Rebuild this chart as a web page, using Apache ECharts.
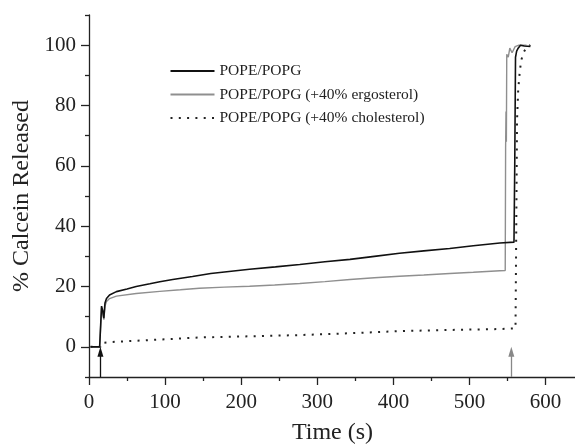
<!DOCTYPE html>
<html>
<head>
<meta charset="utf-8">
<script src="https://cdn.jsdelivr.net/npm/echarts@6/dist/echarts.min.js"></script>
<style>
html,body{margin:0;padding:0;background:#fff;}
#chart{width:575px;height:444px;}
</style>
</head>
<body>
<div id="chart"></div>
<script>
// ---- data (time s, % calcein released) ----
const seriesNames = ['POPE/POPG', 'POPE/POPG (+40% ergosterol)', 'POPE/POPG (+40% cholesterol)'];

const popePopg = [
  [2,0],[14,0],[15,0.3],[16.5,13.5],[18,12],[19.5,9.5],[21,14.5],[23,16],[27,17.2],[36,18.3],
  [50,19.2],[62,20],[80,20.9],[93,21.6],[110,22.3],[136,23.3],[160,24.3],[211,25.7],[245,26.5],
  [277,27.3],[310,28.2],[343,29.0],[375,30.0],[408,31.0],[440,31.8],[474,32.6],[505,33.5],
  [540,34.4],[558.5,34.7],[559.5,60],[560.5,96],[562,98],[564,99],[567,100],[572,99.7],[580,99.6]
];

const ergosterol = [
  [2,0],[14,0],[15,0.3],[16.5,13],[18,11],[19.5,9],[21,13.5],[23,15],[27,16],[36,16.8],
  [62,17.7],[93,18.4],[120,18.9],[145,19.4],[178,19.8],[211,20.1],[244,20.5],[277,21.0],
  [310,21.6],[343,22.3],[375,22.9],[408,23.4],[440,23.8],[474,24.3],[505,24.7],[540,25.2],
  [547,25.3],[547.5,66],[548,78],[548.5,68],[549,97],[551,96],[553,99],[556,97.5],[560,99.5],
  [565,100],[575,100]
];

const cholesterol = [
  [2,0],[15,0],[17,1.3],[30,1.6],[60,2.0],[100,2.5],[145,3.1],[211,3.5],[277,3.9],[343,4.5],
  [408,5.2],[474,5.6],[540,5.9],[560.5,6.1],[561.5,40],[562.5,75],[564,85],[566,91],[568,95],
  [571,97.5],[575,99.3],[580,100]
];

// injection / lysis markers: [time, arrow tip value]
const arrowMarks = [[15, -1.6], [555, -1.6]];

// axis ticks
const xMajor = [0,100,200,300,400,500,600];
const xMinor = [50,150,250,350,450,550];
const yMajor = [0,20,40,60,80,100];
const yMinor = [-10,10,30,50,70,90,110];

const FONT = '"Liberation Serif", "Times New Roman", serif';
const AX = '#222';

const chart = echarts.init(document.getElementById('chart'), null, {renderer:'canvas'});

const baseX = {type:'value', min:0, max:640, position:'bottom'};
const baseY = {type:'value', min:-10, max:110, position:'left'};

chart.setOption({
  animation:false,
  backgroundColor:'#fff',
  grid:{left:89, top:15, width:487, height:362, containLabel:false, outerBoundsMode:'none'},
  legend:{
    orient:'vertical', left:169.5, top:63, padding:0,
    itemWidth:44, itemHeight:14, itemGap:7.5,
    itemStyle:{opacity:0, color:'transparent', borderWidth:0},
    textStyle:{fontFamily:FONT, fontSize:15.5, color:'#222', padding:[0,0,0,0]},
    data:seriesNames
  },
  xAxis:[
    Object.assign({}, baseX, {
      name:'Time (s)', nameLocation:'middle', nameGap:44,
      nameTextStyle:{fontFamily:FONT, fontSize:24, color:'#222'},
      axisLine:{show:true, onZero:false, lineStyle:{color:AX, width:1.3}},
      axisTick:{show:true, inside:false, length:8, customValues:xMajor, lineStyle:{color:AX, width:1.3}},
      axisLabel:{show:true, customValues:xMajor, margin:15, fontFamily:FONT, fontSize:21, color:'#222'},
      splitLine:{show:false}
    }),
    Object.assign({}, baseX, {
      axisLine:{show:false, onZero:false},
      axisTick:{show:true, inside:false, length:4, customValues:xMinor, lineStyle:{color:AX, width:1.3}},
      axisLabel:{show:false},
      splitLine:{show:false}
    })
  ],
  yAxis:[
    Object.assign({}, baseY, {
      name:'% Calcein Released', nameLocation:'middle', nameGap:55,
      nameTextStyle:{fontFamily:FONT, fontSize:24, color:'#222'},
      axisLine:{show:true, onZero:false, lineStyle:{color:AX, width:1.3}},
      axisTick:{show:true, inside:false, length:8, customValues:yMajor, lineStyle:{color:AX, width:1.3}},
      axisLabel:{show:true, customValues:yMajor, margin:13, fontFamily:FONT, fontSize:21, color:'#222'},
      splitLine:{show:false}
    }),
    Object.assign({}, baseY, {
      axisLine:{show:false, onZero:false},
      axisTick:{show:true, inside:false, length:4, customValues:yMinor, lineStyle:{color:AX, width:1.3}},
      axisLabel:{show:false},
      splitLine:{show:false}
    })
  ],
  series:[
    {
      name:seriesNames[0], type:'line', data:popePopg, symbol:'none', showSymbol:false,
      xAxisIndex:0, yAxisIndex:0, z:4,
      lineStyle:{color:'#111', width:1.6}, itemStyle:{color:'#111'},
      markLine:{
        silent:true, animation:false, symbol:['none','triangle'], symbolSize:[6,10],
        label:{show:false},
        data:[
          [{coord:[arrowMarks[0][0], -10], lineStyle:{color:'#111', width:1.3, type:'solid'}, itemStyle:{color:'#111'}},
           {coord:[arrowMarks[0][0], arrowMarks[0][1]]}],
          [{coord:[arrowMarks[1][0], -10], lineStyle:{color:'#888', width:1.3, type:'solid'}, itemStyle:{color:'#888'}},
           {coord:[arrowMarks[1][0], arrowMarks[1][1]]}]
        ]
      }
    },
    {
      name:seriesNames[1], type:'line', data:ergosterol, symbol:'none', showSymbol:false,
      xAxisIndex:0, yAxisIndex:0, z:3,
      lineStyle:{color:'#8f8f8f', width:1.4}, itemStyle:{color:'#8f8f8f'}
    },
    {
      name:seriesNames[2], type:'line', data:cholesterol, symbol:'none', showSymbol:false,
      xAxisIndex:0, yAxisIndex:0, z:2,
      lineStyle:{color:'#222', width:2, type:[2,6.3], cap:'butt'}, itemStyle:{color:'#222'}
    }
  ]
});
</script>
</body>
</html>
